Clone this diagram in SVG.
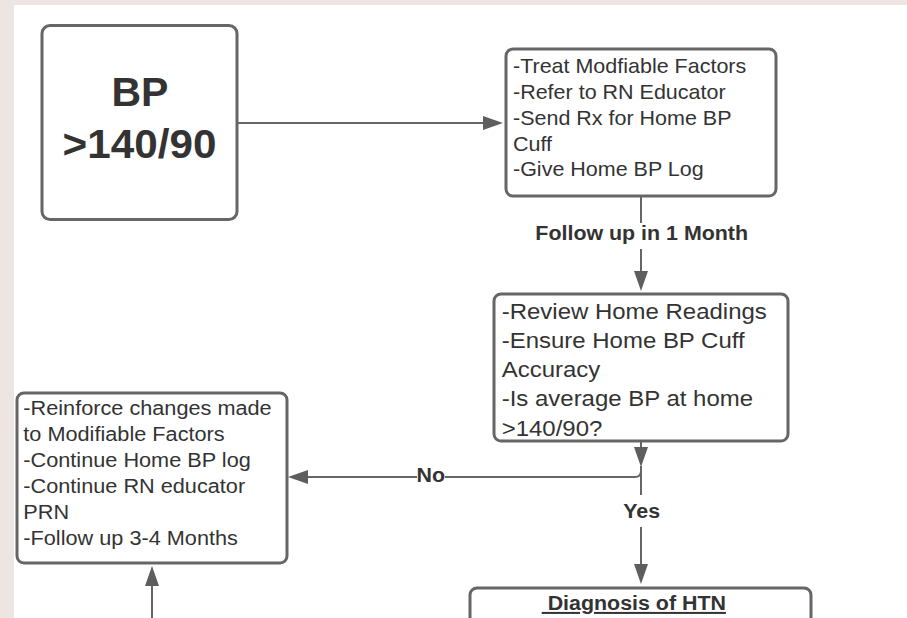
<svg xmlns="http://www.w3.org/2000/svg" width="907" height="618" viewBox="0 0 907 618">
  <style>
    .box { fill: #ffffff; stroke: #666666; stroke-width: 3; }
    .txt { font-family: "Liberation Sans", Arial, sans-serif; fill: #333333; }
    .body { font-size: 20px; }
    .lbl { font-size: 20px; font-weight: bold; text-anchor: middle; }
    .conn { fill: none; stroke: #666666; stroke-width: 2; }
    .gap { fill: #ffffff; }
  </style>
  <defs>
    <marker id="arrow" viewBox="0 0 20 14" refX="16" refY="7" markerWidth="20" markerHeight="14" markerUnits="userSpaceOnUse" orient="auto">
      <path d="M0,0 L20,7 L0,14 Z" fill="#5e5e5e"/>
    </marker>
  </defs>

  <!-- page background and canvas -->
  <rect x="0" y="0" width="907" height="618" fill="#ede5e2"/>
  <rect x="14" y="5" width="893" height="613" fill="#ffffff"/>

  <!-- connectors -->
  <g id="connectors">
    <line class="conn" x1="238" y1="123" x2="499" y2="123" marker-end="url(#arrow)"/>
    <line class="conn" x1="641" y1="196" x2="641" y2="287" marker-end="url(#arrow)"/>
    <rect class="gap" x="530" y="223" width="224" height="26"/>
    <line class="conn" x1="641" y1="441" x2="641" y2="463" marker-end="url(#arrow)"/>
    <path class="conn" d="M641,466 V471 Q641,477 635,477 H292" marker-end="url(#arrow)"/>
    <rect class="gap" x="417" y="466" width="28" height="22"/>
    <line class="conn" x1="641" y1="466" x2="641" y2="580" marker-end="url(#arrow)"/>
    <rect class="gap" x="620" y="495" width="44" height="32"/>
    <line class="conn" x1="152" y1="618" x2="152" y2="570" marker-end="url(#arrow)"/>

    <g class="txt lbl">
      <text transform="translate(641.7,240) scale(1.07,1)">Follow up in 1 Month</text>
      <text transform="translate(430.7,482) scale(1.07,1)">No</text>
      <text transform="translate(641.7,518.3) scale(1.07,1)">Yes</text>
    </g>
  </g>

  <!-- start node -->
  <g id="node-bp">
    <rect class="box" x="42" y="25.5" width="195" height="194" rx="8"/>
    <g class="txt" font-weight="bold" font-size="41" text-anchor="middle">
      <text transform="translate(140,106)">BP</text>
      <text transform="translate(139.5,158) scale(1.03,1)">&gt;140/90</text>
    </g>
  </g>

  <!-- initial actions -->
  <g id="node-treat">
    <rect class="box" x="506" y="49" width="270" height="147" rx="7"/>
    <text class="txt body" transform="translate(513,0) scale(1.075,1)">
      <tspan x="0" y="73.3">-Treat Modfiable Factors</tspan>
      <tspan x="0" y="99.1">-Refer to RN Educator</tspan>
      <tspan x="0" y="124.9">-Send Rx for Home BP</tspan>
      <tspan x="0" y="150.7">Cuff</tspan>
      <tspan x="0" y="176.5">-Give Home BP Log</tspan>
    </text>
  </g>

  <!-- review step -->
  <g id="node-review">
    <rect class="box" x="494" y="294" width="294" height="147" rx="7"/>
    <text class="txt" font-size="22" transform="translate(501.7,0) scale(1.09,1)">
      <tspan x="0" y="319.3">-Review Home Readings</tspan>
      <tspan x="0" y="348.3">-Ensure Home BP Cuff</tspan>
      <tspan x="0" y="377.3">Accuracy</tspan>
      <tspan x="0" y="406.5">-Is average BP at home</tspan>
      <tspan x="0" y="435.7">&gt;140/90?</tspan>
    </text>
  </g>

  <!-- follow-up plan -->
  <g id="node-reinforce">
    <rect class="box" x="17" y="393" width="270" height="170" rx="7"/>
    <text class="txt body" transform="translate(23.3,0) scale(1.085,1)">
      <tspan x="0" y="415.5">-Reinforce changes made</tspan>
      <tspan x="0" y="441.5">to Modifiable Factors</tspan>
      <tspan x="0" y="467.5">-Continue Home BP log</tspan>
      <tspan x="0" y="493.5">-Continue RN educator</tspan>
      <tspan x="0" y="519.5">PRN</tspan>
      <tspan x="0" y="545.5">-Follow up 3-4 Months</tspan>
    </text>
  </g>

  <!-- diagnosis -->
  <g id="node-diagnosis">
    <rect class="box" x="470" y="588" width="341" height="60" rx="7"/>
    <text class="txt" font-size="20" font-weight="bold" text-decoration="underline" transform="translate(541.7,610) scale(1.07,1)">&#160;Diagnosis of HTN</text>
  </g>
</svg>
